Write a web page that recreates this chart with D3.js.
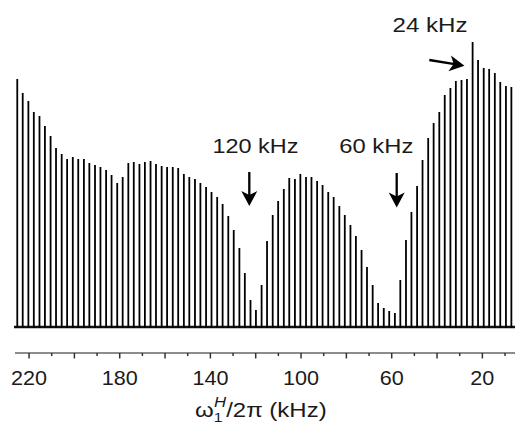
<!DOCTYPE html>
<html>
<head>
<meta charset="utf-8">
<script src="https://cdn.jsdelivr.net/npm/d3@7"></script>
<style>
  body { margin: 0; background: #fff; }
  svg { display: block; font-family: "Liberation Sans", Arial, sans-serif; }
</style>
</head>
<body>
<svg id="chart" width="515" height="424"></svg>
<script>
// spin-lock field strength of each spectrum (kHz)
const freqs = [
  225.2, 222.8, 220.3, 217.9, 215.4, 213.0, 210.5, 208.1, 205.6, 203.2,
  200.7, 198.3, 195.8, 193.4, 190.9, 188.5, 186.0, 183.6, 181.1, 178.7,
  176.2, 173.8, 171.3, 168.9, 166.4, 164.0, 161.5, 159.1, 156.6, 154.2,
  151.7, 149.3, 146.8, 144.4, 141.9, 139.5, 137.0, 134.6, 132.1, 129.7,
  127.2, 124.8, 122.3, 119.9, 117.4, 115.0, 112.5, 110.1, 107.6, 105.2,
  102.7, 100.3, 97.8, 95.4, 92.9, 90.5, 88.0, 85.6, 83.1, 80.7,
  78.2, 75.8, 73.3, 70.9, 68.4, 66.0, 63.5, 61.1, 58.6, 56.2,
  53.7, 51.3, 48.8, 46.4, 43.9, 41.5, 39.0, 36.6, 34.1, 31.7,
  29.2, 26.8, 24.3, 21.9, 19.4, 17.0, 14.5, 12.1, 9.6, 7.2
];
// peak intensity of each spectrum (arbitrary units)
const intensities = [
  248, 234, 226, 215, 211, 201, 191, 179, 173, 168,
  170, 168, 168, 164, 162, 160, 157, 152, 144, 150,
  164, 165, 163, 165, 166, 163, 161, 160, 160, 159,
  153, 150, 148, 144, 140, 135, 130, 123, 111, 97,
  79, 54, 27, 17, 42, 86, 112, 126, 138, 149,
  148, 153, 150, 150, 146, 142, 135, 130, 121, 112,
  102, 91, 77, 60, 42, 24, 19, 16, 14, 47,
  87, 115, 141, 167, 189, 204, 215, 232, 239, 246,
  247, 248, 285, 267, 259, 258, 254, 245, 241, 240
];
const majorTicks = [220, 200, 180, 160, 140, 120, 100, 80, 60, 40, 20];
const minorTicks = [210, 190, 170, 150, 130, 110, 90, 70, 50, 30, 10];
const tickLabels = [220, 180, 140, 100, 60, 20];

const svg = d3.select("#chart");

const x = d3.scaleLinear().domain([226.2, 5.6]).range([15, 515]);
const y = d3.scaleLinear().domain([0, 290]).range([327, 37]);
const axisY = 353;

// spectra baseline
svg.append("line")
  .attr("x1", 14).attr("x2", 515)
  .attr("y1", y(0)).attr("y2", y(0))
  .attr("stroke", "#111")
  .attr("stroke-width", 2.4);

// one spike per spectrum
svg.append("g")
  .selectAll("line")
  .data(freqs.map((f, i) => ({ f: f, v: intensities[i] })))
  .join("line")
  .attr("x1", d => x(d.f))
  .attr("x2", d => x(d.f))
  .attr("y1", y(0) + 1)
  .attr("y2", d => y(d.v))
  .attr("stroke", "#000")
  .attr("stroke-width", 1.8);

// x axis
const axis = svg.append("g").attr("transform", `translate(0,${axisY})`);
axis.append("line")
  .attr("x1", 15).attr("x2", 515)
  .attr("stroke", "#666").attr("stroke-width", 1.5);
axis.selectAll("line.major")
  .data(majorTicks)
  .join("line")
  .attr("class", "major")
  .attr("x1", d => x(d)).attr("x2", d => x(d))
  .attr("y1", 0).attr("y2", 5.5)
  .attr("stroke", "#333").attr("stroke-width", 1.5);
axis.selectAll("line.minor")
  .data(minorTicks)
  .join("line")
  .attr("class", "minor")
  .attr("x1", d => x(d)).attr("x2", d => x(d))
  .attr("y1", 0).attr("y2", 3)
  .attr("stroke", "#333").attr("stroke-width", 1.5);
axis.selectAll("text")
  .data(tickLabels)
  .join("text")
  .attr("transform", d => `translate(${x(d)},32) scale(1.08,1)`)
  .attr("text-anchor", "middle")
  .attr("font-size", 20)
  .attr("fill", "#1a1a1a")
  .text(d => d);

// axis title: omega_1^H / 2 pi (kHz)
const title = svg.append("text")
  .attr("transform", "translate(195,417) scale(1.2,1)")
  .attr("font-size", 20)
  .attr("fill", "#1a1a1a");
title.append("tspan").text("ω");
title.append("tspan").attr("font-size", 13).attr("dy", 5).text("1");
title.append("tspan").attr("font-size", 14).attr("font-style", "italic")
  .attr("dx", -7).attr("dy", -15).text("H");
title.append("tspan").attr("dy", 10).text("/2π (kHz)");

// annotations
function label(txt, cx, by, w) {
  svg.append("text")
    .attr("x", cx - w / 2).attr("y", by)
    .attr("font-size", 20)
    .attr("fill", "#1a1a1a")
    .attr("textLength", w)
    .attr("lengthAdjust", "spacingAndGlyphs")
    .text(txt);
}
label("120 kHz", 255.5, 152.7, 86);
label("60 kHz", 376.3, 152.7, 74);
label("24 kHz", 430, 31.5, 75);

function arrow(x1, y1, x2, y2) {
  const a = Math.atan2(y2 - y1, x2 - x1) * 180 / Math.PI;
  const len = Math.hypot(x2 - x1, y2 - y1);
  const g = svg.append("g")
    .attr("transform", `translate(${x1},${y1}) rotate(${a})`);
  g.append("line")
    .attr("x1", 0).attr("x2", len - 10)
    .attr("stroke", "#000").attr("stroke-width", 2.3);
  g.append("path")
    .attr("d", `M${len},0 L${len - 15},-8 L${len - 11},0 L${len - 15},8 Z`)
    .attr("fill", "#000");
}
arrow(249.3, 172, 249.3, 206);
arrow(396.7, 173, 396.7, 207.5);
arrow(429.3, 60, 464.5, 65.7);
</script>
</body>
</html>
